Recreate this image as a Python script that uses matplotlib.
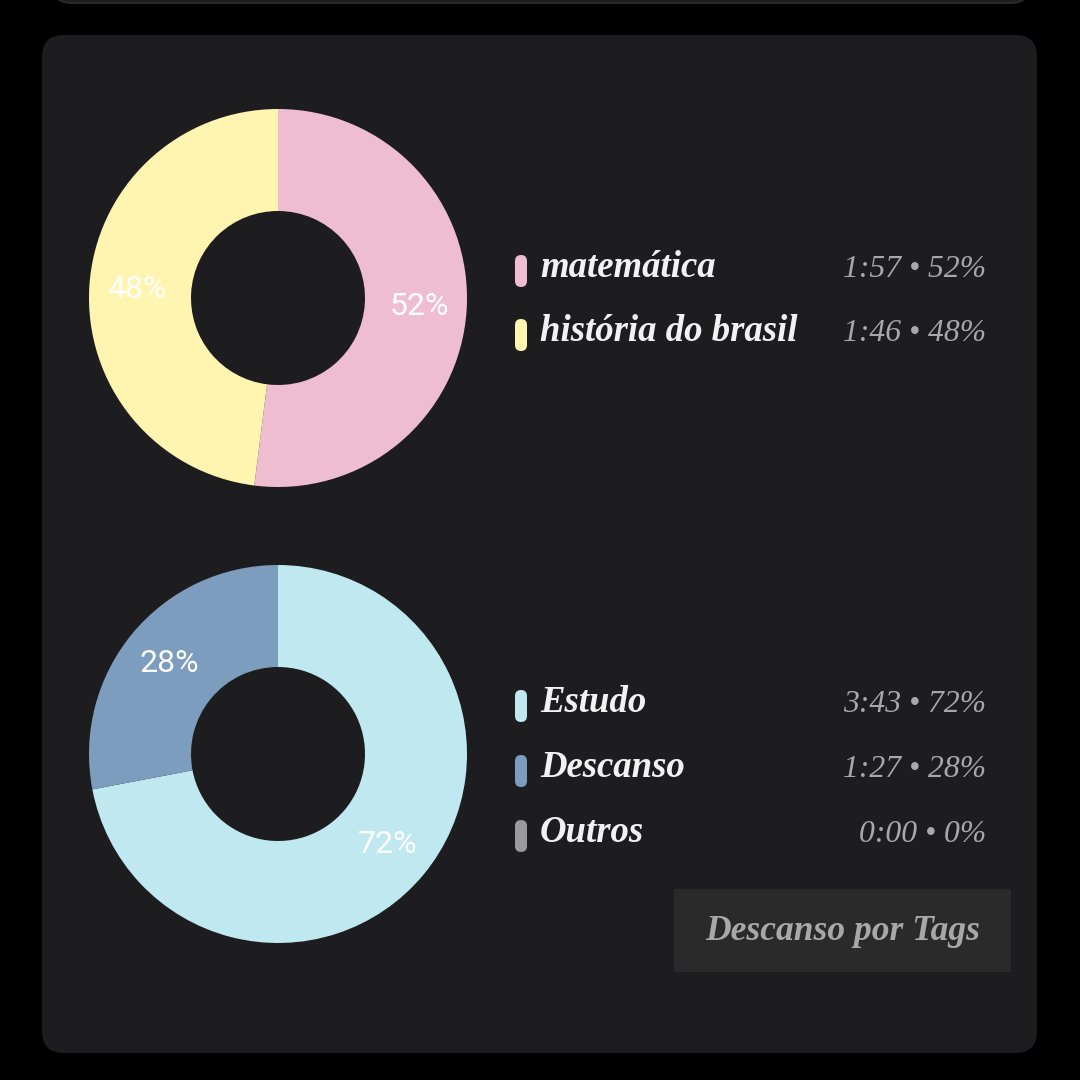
import matplotlib
matplotlib.use("Agg")
import matplotlib.pyplot as plt
from matplotlib.patches import FancyBboxPatch

# ---- data ----
tags = ["matemática", "história do brasil"]
tag_values = [52, 48]
tag_times = ["1:57", "1:46"]
tag_colors = ["#EFBDD0", "#FFF5B0"]

kinds = ["Estudo", "Descanso", "Outros"]
kind_values = [72, 28, 0]
kind_times = ["3:43", "1:27", "0:00"]
kind_colors = ["#BFE8F0", "#7C9DBE", "#9A9A9A"]

button_text = "Descanso por Tags"

W = H = 1080
fig = plt.figure(figsize=(10.8, 10.8), dpi=100)
fig.patch.set_facecolor("black")
ax = fig.add_axes([0, 0, 1, 1])
ax.set_facecolor("black")

def Y(y):  # pixel y (from top) -> data y
    return H - y

CARD = "#1D1D1F"
SCRIPT = ["Liberation Serif", "DejaVu Serif"]

# top partial card
ax.add_patch(FancyBboxPatch((52, Y(3)), 978, 40, boxstyle="round,pad=0,rounding_size=20",
                            fc=CARD, ec="#2A2A2C", lw=1.5, zorder=1))
# main card
ax.add_patch(FancyBboxPatch((42, Y(1053)), 995, 1018, boxstyle="round,pad=0,rounding_size=22",
                            fc=CARD, ec="none", zorder=1))

R_OUT, R_IN = 189, 87

def donut(center, values, colors):
    ax.pie(values, colors=colors, center=center, radius=R_OUT, startangle=90,
           counterclock=False,
           wedgeprops=dict(width=R_OUT - R_IN, linewidth=0, edgecolor="none"),
           autopct=lambda p: f"{p:.0f}%" if p >= 0.5 else "",
           pctdistance=(R_OUT + R_IN) / 2 / R_OUT + 0.02,
           textprops=dict(color="white", fontsize=23, family="Roboto"))

donut((278, Y(298)), tag_values, tag_colors)
donut((278, Y(754)), kind_values, kind_colors)

def legend_rows(names, vals, times, colors, baselines):
    for name, v, t, c, b in zip(names, vals, times, colors, baselines):
        ax.add_patch(FancyBboxPatch((515, Y(b + 10)), 12, 32,
                                    boxstyle="round,pad=0,rounding_size=6",
                                    fc=c, ec="none", zorder=3))
        ax.text(540, Y(b), name, color="#F2F2F2", fontsize=26.5, fontstyle="italic",
                fontweight="bold", family=SCRIPT, va="baseline", ha="left", zorder=4)
        ax.text(986, Y(b), f"{t} • {v}%", color="#A8A8A8", fontsize=22.8,
                fontstyle="italic", family=SCRIPT, va="baseline", ha="right", zorder=4)

legend_rows(tags, tag_values, tag_times, tag_colors, [277, 341])
legend_rows(kinds, kind_values, kind_times, kind_colors, [712, 777, 842])

# button
ax.add_patch(FancyBboxPatch((674, Y(972)), 337, 83, boxstyle="square,pad=0",
                            fc="#2A2A2A", ec="none", zorder=2))
ax.text(843, Y(932), button_text, color="#A8A8A8", fontsize=25.6, fontstyle="italic",
        fontweight="bold", family=SCRIPT, ha="center", va="center", zorder=4)

ax.set_xlim(0, W)
ax.set_ylim(0, H)
ax.set_aspect("equal")
ax.axis("off")
fig.savefig("out.png", dpi=100, facecolor="black")
